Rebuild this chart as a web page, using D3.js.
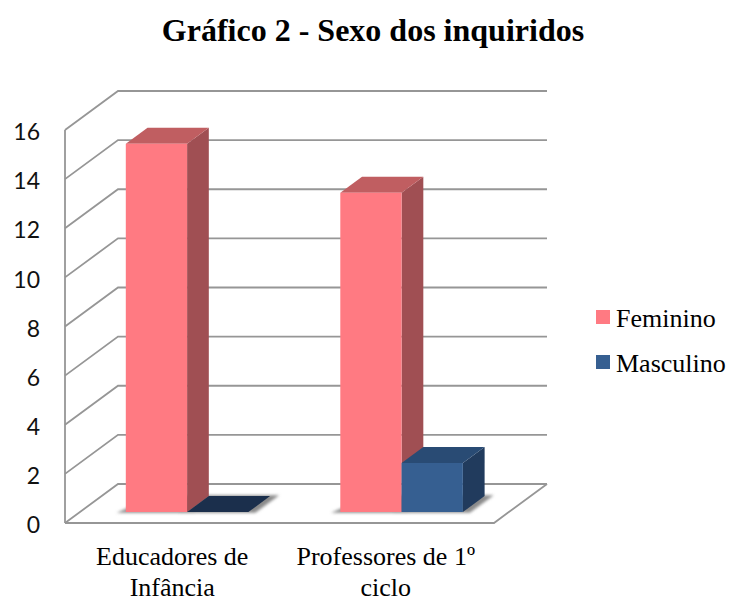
<!DOCTYPE html>
<html>
<head>
<meta charset="utf-8">
<script src="https://cdn.jsdelivr.net/npm/d3@7"></script>
<style>
  html, body { margin: 0; padding: 0; background: #fff; }
  svg { display: block; }
  .serif { font-family: "Liberation Serif", serif; fill: #000; }
  .tick text { font-family: Lato, "Open Sans", sans-serif; font-size: 23px; fill: #111; }
</style>
</head>
<body>
<svg id="chart"></svg>
<script>
const categorias = [['Educadores de', 'Infância'], ['Professores de 1º', 'ciclo']]
const series = ['Feminino', 'Masculino']
const feminino = [15, 13]
const masculino = [0, 2]
const yTicks = [0, 2, 4, 6, 8, 10, 12, 14, 16]

const widthSVG = 730
const heightSVG = 598

// canto frontal do grafico e profundidade da caixa
const x0 = 65
const x1 = 494
const yBase = 523
const yTopo = 130
const depthX = 53
const depthY = 39

// profundidade das barras, em fracao da caixa
const barNear = 0.28
const barFar = 0.69

const cores = {
  Feminino: { front: '#ff7a82', side: '#a04f53', top: '#c05e61' },
  Masculino: { front: '#365f91', side: '#213b5d', top: '#294b74', flat: '#1b2f4c' }
}

let svg = d3.select('#chart').attr('width', widthSVG).attr('height', heightSVG)

svg.append('defs').append('filter')
   .attr('id', 'sombra')
   .attr('x', '-20%').attr('y', '-50%').attr('width', '140%').attr('height', '200%')
   .append('feGaussianBlur').attr('stdDeviation', 1.6)

let yScale = d3.scaleLinear().domain([0, 16]).range([yBase, yTopo])
let xScale = d3.scaleBand().domain([0, 1]).range([x0, x1])
let serieScale = d3.scaleBand().domain(series)
                   .range([0, xScale.bandwidth()]).paddingOuter(0.75).paddingInner(0)

// projecao obliqua: x, valor e profundidade (0 a 1) para pixels
function proj(x, valor, prof) {
  return [x + depthX * prof, yScale(valor) - depthY * prof]
}

function poligono(pontos, cor, g) {
  return g.append('polygon')
          .attr('points', pontos.map(p => p.join(',')).join(' '))
          .attr('fill', cor)
}

dibujarCaja()
dibujarEjes()
dibujarBarras()
dibujarLeyenda()
dibujarTextos()

function dibujarCaja() {
  let g = svg.append('g')
             .attr('fill', 'none')
             .attr('stroke', '#969696')
             .attr('stroke-width', 1.8)

  yTicks.forEach(t => {
    let a = proj(x0, t, 0), b = proj(x0, t, 1), c = proj(x1, t, 1)
    g.append('polyline').attr('points', [a, b, c].map(p => p.join(',')).join(' '))
  })
  // suelo y eje vertical
  let piso = [proj(x0, 0, 0), proj(x1, 0, 0), proj(x1, 0, 1)]
  g.append('polyline').attr('points', piso.map(p => p.join(',')).join(' '))
  g.append('line').attr('x1', x0).attr('x2', x0).attr('y1', yScale(16)).attr('y2', yScale(0))
}

function dibujarEjes() {
  let yAxis = d3.axisLeft(yScale).tickValues(yTicks).tickSize(0).tickPadding(25)
  let g = svg.append('g')
             .attr('transform', 'translate(' + x0 + ',0)')
             .call(yAxis)
  g.select('.domain').remove()
  g.selectAll('.tick text').attr('dy', '0.42em')
}

function dibujarBarras() {
  let sombras = svg.append('g').attr('fill', '#777').attr('filter', 'url(#sombra)')
  let barras = svg.append('g')

  categorias.forEach((c, i) => {
    series.forEach(s => {
      let x = xScale(i) + serieScale(s)
      let ancho = serieScale.bandwidth()
      poligono([
        proj(x - 8, 0, barNear - 0.02),
        proj(x + ancho + 8, 0, barNear - 0.02),
        proj(x + ancho + 8, 0, barFar + 0.02),
        proj(x + 8, 0, barFar + 0.02)
      ], '#8a8a8a', sombras)
    })
  })

  categorias.forEach((c, i) => {
    series.forEach(s => {
      let v = s === 'Feminino' ? feminino[i] : masculino[i]
      let cor = cores[s]
      let xa = xScale(i) + serieScale(s)
      let xb = xa + serieScale.bandwidth()
      // cara lateral, superior y frontal
      poligono([proj(xb, 0, barNear), proj(xb, 0, barFar), proj(xb, v, barFar), proj(xb, v, barNear)], cor.side, barras)
      poligono([proj(xa, v, barNear), proj(xb, v, barNear), proj(xb, v, barFar), proj(xa, v, barFar)],
               v === 0 ? cor.flat : cor.top, barras)
      poligono([proj(xa, 0, barNear), proj(xb, 0, barNear), proj(xb, v, barNear), proj(xa, v, barNear)], cor.front, barras)
    })
  })
}

function dibujarLeyenda() {
  let items = svg.append('g')
                 .selectAll('g')
                 .data(series)
                 .enter()
                 .append('g')
                 .attr('transform', (d, i) => 'translate(596,' + (310 + i * 45) + ')')
  items.append('rect')
       .attr('width', 14).attr('height', 14)
       .attr('fill', d => cores[d].front)
  items.append('text')
       .attr('class', 'serif')
       .attr('x', 20).attr('y', 17)
       .style('font-size', '26px')
       .text(d => d)
}

function dibujarTextos() {
  svg.append('text')
     .attr('class', 'serif')
     .attr('x', 373).attr('y', 41)
     .attr('text-anchor', 'middle')
     .style('font-size', '32px')
     .style('font-weight', 'bold')
     .text('Gráfico 2 - Sexo dos inquiridos')

  categorias.forEach((c, i) => {
    c.forEach((linea, j) => {
      svg.append('text')
         .attr('class', 'serif')
         .attr('x', xScale(i) + xScale.bandwidth() / 2 - i)
         .attr('y', 565 + j * 30.5)
         .attr('text-anchor', 'middle')
         .style('font-size', '26px')
         .text(linea)
    })
  })
}
</script>
</body>
</html>
